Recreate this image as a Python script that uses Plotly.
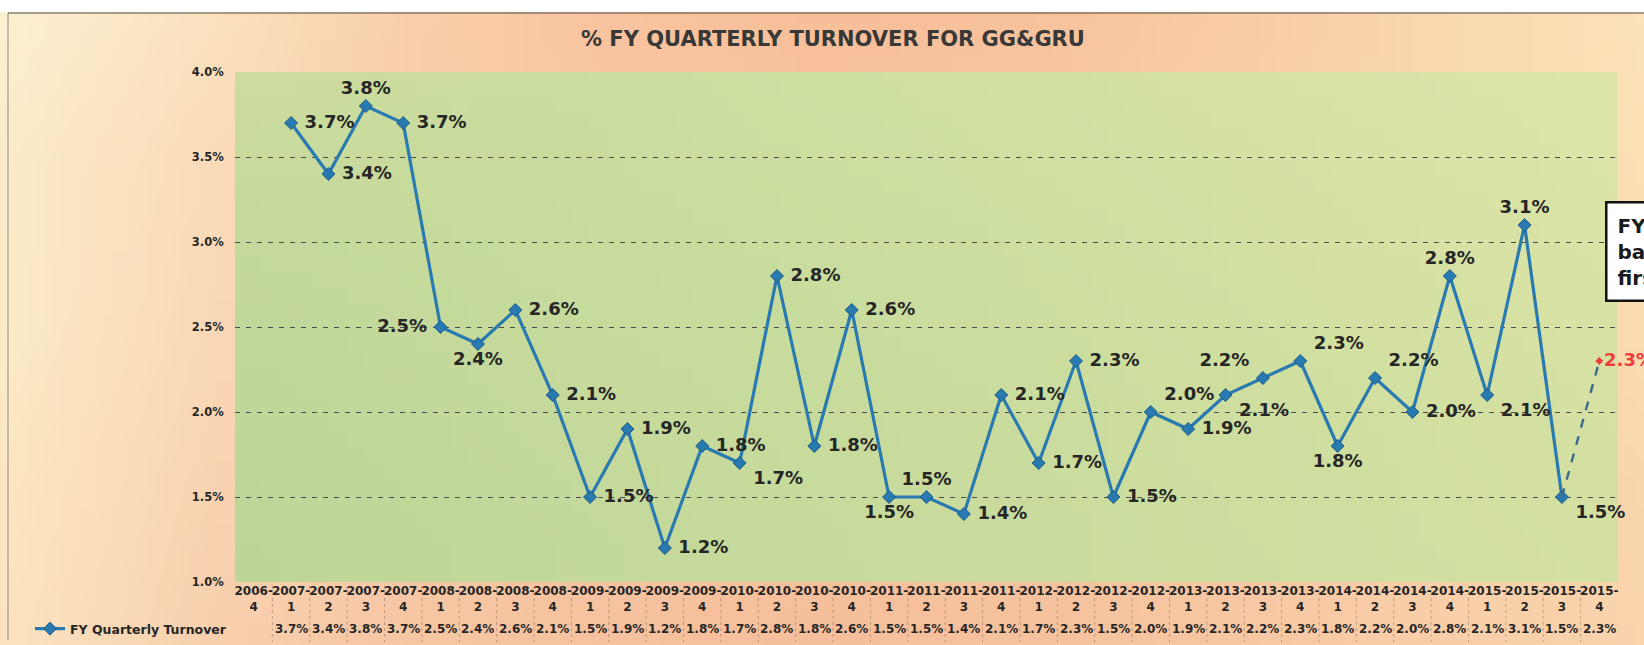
import zlib, struct, base64
import plotly.graph_objects as go

# ---------------- data ----------------
quarters = ["2006-4",
            "2007-1", "2007-2", "2007-3", "2007-4",
            "2008-1", "2008-2", "2008-3", "2008-4",
            "2009-1", "2009-2", "2009-3", "2009-4",
            "2010-1", "2010-2", "2010-3", "2010-4",
            "2011-1", "2011-2", "2011-3", "2011-4",
            "2012-1", "2012-2", "2012-3", "2012-4",
            "2013-1", "2013-2", "2013-3", "2013-4",
            "2014-1", "2014-2", "2014-3", "2014-4",
            "2015-1", "2015-2", "2015-3", "2015-4"]
turnover = [None,
            3.7, 3.4, 3.8, 3.7,
            2.5, 2.4, 2.6, 2.1,
            1.5, 1.9, 1.2, 1.8,
            1.7, 2.8, 1.8, 2.6,
            1.5, 1.5, 1.4, 2.1,
            1.7, 2.3, 1.5, 2.0,
            1.9, 2.1, 2.2, 2.3,
            1.8, 2.2, 2.0, 2.8,
            2.1, 3.1, 1.5, 2.3]
label_pos = ["middle right",
             "middle right", "middle right", "top center", "middle right",
             "middle left", "bottom center", "middle right", "middle right",
             "middle right", "middle right", "middle right", "middle right",
             "bottom right", "middle right", "middle right", "middle right",
             "bottom center", "top center", "middle right", "middle right",
             "middle right", "middle right", "middle right", "top right",
             "middle right", "bottom right", "top left", "top right",
             "bottom center", "top right", "middle right", "top center",
             "bottom right", "top center", "bottom right", "middle right"]
y_ticks = [1.0, 1.5, 2.0, 2.5, 3.0, 3.5, 4.0]
series_name = "FY Quarterly Turnover"
title_text = "% FY QUARTERLY TURNOVER FOR GG&GRU"
callout_text = "FY2015-4 estimate<br>based on<br>first two months"

# ---------------- layout constants ----------------
W, H = 1644, 645
ML, MR, MT, MB = 235, 26, 72, 63
PW, PH = W - ML - MR, H - MT - MB
FONT = "DejaVu Sans"
BLUE = "#2a7ab2"
DARK = "#262626"


def px_x(p):
    return (p - ML) / PW


def px_y(p):
    return (H - MB - p) / PH


# ---------------- gradient background images ----------------
def hex2rgb(h):
    h = h.lstrip("#")
    return [int(h[i:i + 2], 16) for i in (0, 2, 4)]


def upsample(grid, w, h):
    gr = [[hex2rgb(c) for c in row] for row in grid]
    R, C = len(gr), len(gr[0])
    out = []
    for j in range(h):
        fy = j / (h - 1) * (R - 1)
        j0 = min(int(fy), R - 2); ty = fy - j0
        row = []
        for i in range(w):
            fx = i / (w - 1) * (C - 1)
            i0 = min(int(fx), C - 2); tx = fx - i0
            px = []
            for k in range(3):
                a = gr[j0][i0][k] * (1 - tx) + gr[j0][i0 + 1][k] * tx
                b = gr[j0 + 1][i0][k] * (1 - tx) + gr[j0 + 1][i0 + 1][k] * tx
                px.append(int(round(a * (1 - ty) + b * ty)))
            row.append(px)
        out.append(row)
    return out


def png_uri(rows):
    h, w = len(rows), len(rows[0])
    raw = b"".join(b"\x00" + bytes([c for p in row for c in p]) for row in rows)

    def chunk(t, d):
        return struct.pack(">I", len(d)) + t + d + struct.pack(">I", zlib.crc32(t + d) & 0xffffffff)
    png = (b"\x89PNG\r\n\x1a\n" + chunk(b"IHDR", struct.pack(">IIBBBBB", w, h, 8, 2, 0, 0, 0))
           + chunk(b"IDAT", zlib.compress(raw)) + chunk(b"IEND", b""))
    return "data:image/png;base64," + base64.b64encode(png).decode()


outer_grid = [
    ["#fdf0d2", "#fbe2bf", "#f9cfab", "#f8c39e", "#f7bf99", "#f7c19b", "#f8cca5", "#fad8ae", "#fbe2b9"],
    ["#fcebc8", "#fadbb8", "#f8cdaa", "#f8c6a2", "#f8c39f", "#f8c6a2", "#f9d0a9", "#fad9b0", "#fbdfb5"],
    ["#fcebc7", "#f9d8b6", "#f8cfad", "#f7caa7", "#f7c8a5", "#f8cba6", "#f9d1aa", "#fad7ae", "#fbdcb2"],
    ["#fce6c2", "#f9d4b2", "#f7caa7", "#f6c4a1", "#f6c19e", "#f6c39f", "#f7c9a4", "#f8d0aa", "#f9d6ae"],
    ["#fbe3c0", "#f8d0ae", "#f6c6a3", "#f6c19e", "#f6bf9b", "#f6c19d", "#f7c7a2", "#f8cea8", "#f9d4ad"],
]
plot_grid = [
    ["#cddb9f", "#cadc9e", "#cde0a0", "#d2e1a2", "#d9e3a6", "#dfe5a9"],
    ["#c4d99b", "#c6db9c", "#c9dd9e", "#cedfa0", "#d5e1a3", "#dae3a6"],
    ["#c0d799", "#c4d99b", "#c7db9c", "#cbdd9e", "#d0dfa0", "#d6e1a3"],
    ["#bdd697", "#c2d89a", "#c6da9c", "#cadc9d", "#cfdea0", "#d3e0a2"],
]
outer_img = png_uri(upsample(outer_grid, 96, 40))
plot_img = png_uri(upsample(plot_grid, 80, 32))

NBSP = "\u00a0"


def fmt_label(v, pos, pad=True):
    if v is None:
        return None
    s = f"{v:.1f}%"
    if pad and pos.endswith("right"):
        s = NBSP + s
    elif pad and pos.endswith("left"):
        s = s + NBSP
    return s


# ---------------- figure ----------------
fig = go.Figure()

x_main = quarters[:-1]
y_main = turnover[:-1]
fig.add_trace(go.Scatter(
    x=x_main, y=y_main, name=series_name,
    mode="lines+markers+text",
    line=dict(color=BLUE, width=3.2),
    marker=dict(symbol="diamond", size=10, color=BLUE, line=dict(color="#1d5a86", width=1)),
    text=[fmt_label(v, p) for v, p in zip(y_main, label_pos[:-1])],
    textposition=label_pos[:-1],
    textfont=dict(family=FONT, size=18, color=DARK, weight="bold"),
    cliponaxis=False,
    hoverinfo="x+y",
))
# projected last quarter (dashed)
fig.add_trace(go.Scatter(
    x=quarters[-2:], y=turnover[-2:], mode="lines", showlegend=False,
    line=dict(color="#3a6a8e", width=2.4, dash="dash"), cliponaxis=False, hoverinfo="skip",
))
fig.add_trace(go.Scatter(
    x=quarters[-1:], y=turnover[-1:], mode="markers+text", showlegend=False,
    marker=dict(symbol="diamond", size=6, color="#ee3b3b"),
    text=[fmt_label(turnover[-1], label_pos[-1], pad=False)], textposition=label_pos[-1:],
    textfont=dict(family=FONT, size=18, color="#f03c3c", weight="bold"),
    cliponaxis=False, hoverinfo="x+y",
))

# data table row beneath the axis
for q, v in zip(quarters, turnover):
    if v is None:
        continue
    fig.add_annotation(x=q, y=px_y(638), xref="x", yref="paper", text=f"{v:.1f}%",
                       showarrow=False, font=dict(family=FONT, size=12, color=DARK, weight="bold"))

# faint table separators
for i in range(len(quarters) - 1):
    fig.add_shape(type="line", xref="x", yref="paper", x0=i + 0.5, x1=i + 0.5,
                  y0=px_y(586), y1=px_y(642),
                  line=dict(color="rgba(40,40,40,0.28)", width=1, dash="dot"))

# callout box at right edge (cut off in the source)
fig.add_annotation(x=px_x(1605), y=px_y(252), xref="paper", yref="paper",
                   xanchor="left", yanchor="middle", align="left", showarrow=False,
                   text=callout_text,
                   font=dict(family=FONT, size=20, color="#1a1a1a", weight="bold"),
                   bgcolor="white", bordercolor="#111111", borderwidth=2.5, borderpad=10)

# title
fig.add_annotation(x=px_x(833), y=px_y(39), xref="paper", yref="paper", showarrow=False,
                   text=title_text, xanchor="center", yanchor="middle",
                   font=dict(family=FONT, size=21, color="#383838", weight="bold"))

# scan border artifacts
fig.add_shape(type="rect", xref="paper", yref="paper", x0=px_x(0), x1=px_x(W),
              y0=px_y(12), y1=px_y(0), fillcolor="white", line=dict(width=0), layer="above")
fig.add_shape(type="line", xref="paper", yref="paper", x0=px_x(8), x1=px_x(W),
              y0=px_y(13), y1=px_y(13), line=dict(color="rgba(60,60,60,0.6)", width=1.5))
fig.add_shape(type="line", xref="paper", yref="paper", x0=px_x(8), x1=px_x(8),
              y0=px_y(13), y1=px_y(640), line=dict(color="rgba(90,90,90,0.45)", width=1.5))

fig.update_layout(
    width=W, height=H,
    margin=dict(l=ML, r=MR, t=MT, b=MB, autoexpand=False),
    paper_bgcolor="#f9d6b2", plot_bgcolor="#c8db9d",
    font=dict(family=FONT, color=DARK),
    images=[
        dict(source=outer_img, xref="paper", yref="paper", x=px_x(0), y=px_y(0),
             sizex=W / PW, sizey=H / PH, sizing="stretch", xanchor="left", yanchor="top",
             layer="below"),
        dict(source=plot_img, xref="paper", yref="paper", x=0, y=1, sizex=1, sizey=1,
             sizing="stretch", xanchor="left", yanchor="top", layer="below"),
    ],
    showlegend=True,
    legend=dict(x=px_x(30), y=px_y(629), xanchor="left", yanchor="middle",
                bgcolor="rgba(0,0,0,0)", font=dict(family=FONT, size=12.5, color=DARK, weight="bold"),
                itemwidth=30, tracegroupgap=0),
    xaxis=dict(
        type="category", range=[-0.5, len(quarters) - 0.5], automargin=False,
        tickmode="array", tickvals=quarters,
        ticktext=[q.replace("-", "-<br>") for q in quarters],
        tickfont=dict(family=FONT, size=12, color=DARK, weight="bold"),
        showgrid=False, zeroline=False, showline=False, ticks="", tickangle=0,
    ),
    yaxis=dict(
        range=[1.0, 4.0], automargin=False,
        tickmode="array", tickvals=y_ticks, ticktext=[f"{v:.1f}%" for v in y_ticks],
        tickfont=dict(family=FONT, size=11.5, color=DARK, weight="bold"),
        showgrid=True, gridcolor="rgba(30,30,50,0.75)", griddash="5px,6px", gridwidth=1,
        zeroline=False, showline=False, ticks="outside", ticklen=8, tickcolor="rgba(0,0,0,0)",
    ),
)

fig.write_html("out.html", config={"displayModeBar": False},
               post_script="document.body.style.margin='0';document.body.style.overflow='hidden';")
